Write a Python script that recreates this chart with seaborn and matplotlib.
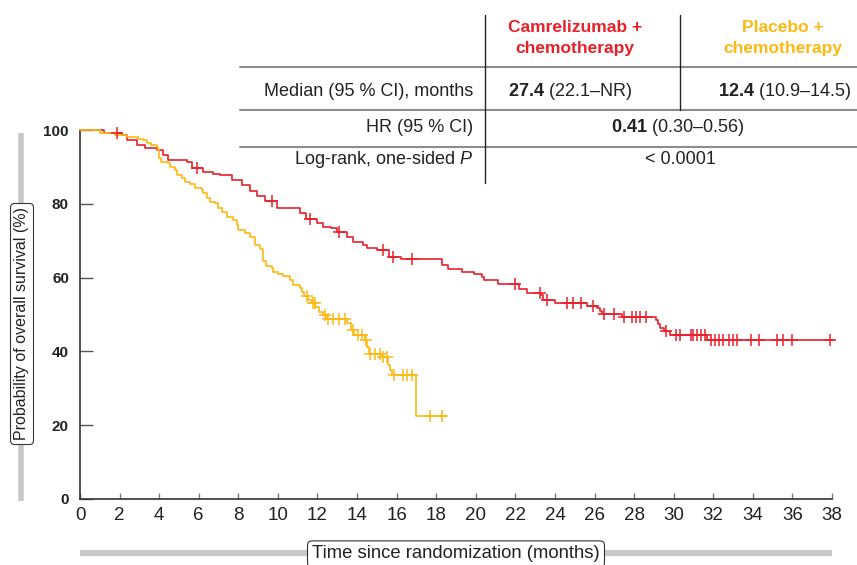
import numpy as np
import pandas as pd
import matplotlib
matplotlib.use('Agg')
import matplotlib.pyplot as plt
from matplotlib.lines import Line2D
import seaborn as sns

# ── Data ─────────────────────────────────────────────────────────────────────
# step times (months) and survival (%) after each drop
red_time = [0, 1.2, 2.1, 2.4, 2.9, 3.3, 3.9, 4.2, 4.45, 5.4, 5.66, 6.2, 6.7,
            7.07, 7.7, 8.2, 8.6, 8.94, 9.35, 9.95, 11.1, 11.4, 12.0, 12.3,
            12.7, 13.0, 13.5, 13.8, 14.3, 14.5, 15.0, 15.6, 16.2, 18.3, 18.6,
            19.3, 19.9, 20.3, 20.4, 21.1, 22.2, 22.6, 23.3, 23.4, 24.0, 25.6,
            26.1, 26.3, 26.4, 27.4, 29.1, 29.2, 29.3, 29.5, 29.8, 31.7]
red_surv = [100, 99.2, 98.6, 97.3, 96.0, 95.1, 94.6, 93.2, 91.9, 91.3, 89.6,
            88.6, 88.1, 87.8, 86.4, 85.1, 83.5, 82.0, 80.8, 78.9, 77.5, 75.9,
            74.8, 73.7, 73.4, 72.4, 71.0, 69.6, 68.8, 68.0, 67.5, 65.6, 65.0,
            63.4, 62.4, 61.5, 61.0, 60.2, 59.3, 58.3, 56.9, 55.8, 55.2, 53.9,
            53.1, 52.3, 51.8, 50.9, 50.2, 49.3, 48.5, 47.4, 46.3, 45.5, 44.4,
            43.0]
red_end = 38.05
red_cens = [1.85, 5.9, 9.7, 11.6, 13.1, 15.3, 15.8, 16.8, 22.0, 23.25, 23.6,
            24.6, 24.9, 25.3, 25.9, 26.5, 27.0, 27.5, 27.9, 28.1, 28.3, 28.6,
            29.6, 30.1, 30.3, 30.9, 31.0, 31.2, 31.4, 31.6, 31.9, 32.1, 32.3,
            32.5, 32.8, 33.0, 33.2, 33.9, 34.3, 35.2, 35.5, 36.0, 37.9]

yel_time = [0, 1.0, 1.77, 2.4, 2.93, 3.2, 3.4, 3.6, 3.9, 3.94, 4.0, 4.1, 4.45,
            4.55, 4.8, 4.9, 5.15, 5.3, 5.56, 5.8, 6.16, 6.2, 6.4, 6.57, 6.8,
            6.97, 7.17, 7.43, 7.73, 7.93, 7.98, 8.34, 8.59, 8.84, 9.1, 9.25,
            9.4, 9.7, 9.75, 10.0, 10.26, 10.6, 10.76, 11.1, 11.2, 11.3, 11.5,
            11.7, 11.9, 12.1, 12.3, 12.5, 13.5, 13.7, 13.85, 14.4, 14.5, 14.6,
            15.2, 15.56, 15.66, 15.77, 16.98]
yel_surv = [100, 99.2, 98.6, 98.1, 97.6, 97.3, 96.5, 95.9, 95.4, 94.6, 92.4,
            91.3, 91.0, 90.0, 89.2, 87.8, 87.0, 85.9, 85.4, 84.3, 83.7, 82.9,
            81.6, 80.5, 80.2, 78.9, 77.8, 76.4, 75.6, 74.3, 72.9, 72.1, 71.0,
            68.8, 67.8, 64.6, 63.2, 62.6, 61.5, 61.0, 60.4, 59.3, 58.0, 57.2,
            56.1, 55.0, 53.9, 53.1, 52.0, 50.7, 49.9, 48.8, 47.7, 45.8, 44.5,
            43.1, 41.2, 39.3, 38.5, 36.3, 35.0, 33.6, 22.5]
yel_end = 18.5
yel_cens = [11.47, 11.75, 11.85, 12.4, 12.55, 12.8, 13.1, 13.4, 13.8, 14.05,
            14.25, 14.45, 14.65, 14.9, 15.16, 15.3, 15.5, 15.87, 16.3, 16.5,
            16.8, 17.7, 18.3]

x_ticks = list(range(0, 39, 2))
y_ticks = [0, 20, 40, 60, 80, 100]

RED = '#E8202A'
GOLD = '#FDB913'
TXT = '#222222'

# ── Style ────────────────────────────────────────────────────────────────────
sns.set_theme(style='ticks')
plt.rcParams['font.family'] = ['Liberation Sans', 'DejaVu Sans']
plt.rcParams['mathtext.fontset'] = 'custom'
plt.rcParams['mathtext.rm'] = 'Liberation Sans'
plt.rcParams['mathtext.bf'] = 'Liberation Sans:bold'
plt.rcParams['mathtext.it'] = 'Liberation Sans:italic'

W, H = 857, 565
fig = plt.figure(figsize=(W / 100, H / 100), dpi=100)
fig.patch.set_facecolor('white')


def fx(px):
    return px / W


def fy(py):
    return 1 - py / H


ax = fig.add_axes([fx(80), fy(499), (832 - 80) / W, (499 - 130) / H])
ax.set_facecolor('white')

# ── Curves ───────────────────────────────────────────────────────────────────
for t, s, end, cens, col in [(red_time, red_surv, red_end, red_cens, RED),
                             (yel_time, yel_surv, yel_end, yel_cens, GOLD)]:
    df = pd.DataFrame({'t': t + [end], 's': s + [s[-1]]})
    sns.lineplot(data=df, x='t', y='s', drawstyle='steps-post', color=col,
                 lw=1.2, estimator=None, sort=False, ax=ax, clip_on=False,
                 zorder=3)
    idx = np.searchsorted(np.array(t), np.array(cens), side='right') - 1
    lvl = np.array(s)[idx]
    sns.scatterplot(x=cens, y=lvl, marker='+', s=70, color=col,
                    linewidth=1.1, ax=ax, clip_on=False, zorder=4)

ax.set_xlim(0, 38)
ax.set_ylim(0, 100)
ax.set_xticks(x_ticks)
ax.set_yticks(y_ticks)
ax.set_xlabel('')
ax.set_ylabel('')
sns.despine(ax=ax)
for sp in ['left', 'bottom']:
    ax.spines[sp].set_color('#333333')
    ax.spines[sp].set_linewidth(1.2)
ax.tick_params(axis='y', direction='in', length=9.5, width=1, color='#555555',
               pad=8, labelsize=11, labelcolor=TXT)
ax.tick_params(axis='x', direction='in', length=4.5, width=1, color='#777777',
               pad=6, labelsize=13.5, labelcolor=TXT)
for lab in ax.get_yticklabels():
    lab.set_fontweight('bold')
for lab in ax.get_xticklabels():
    lab.set_family(['Liberation Sans Narrow', 'Liberation Sans'])

# ── Axis-label bars and boxes ────────────────────────────────────────────────
fig.add_artist(Line2D([fx(80), fx(832)], [fy(553)] * 2, color='#c8c8c8',
                      lw=4.5, solid_capstyle='butt', zorder=1))
fig.text(fx(456), fy(554), 'Time since randomization (months)', ha='center',
         va='center', fontsize=13.3, color=TXT, zorder=5,
         bbox=dict(boxstyle='round,pad=0.25', fc='white', ec='#333333', lw=0.8))
fig.add_artist(Line2D([fx(21)] * 2, [fy(133), fy(501)], color='#c8c8c8',
                      lw=4, solid_capstyle='butt', zorder=1))
fig.text(fx(22), fy(324), 'Probability of overall survival (%)', rotation=90,
         ha='center', va='center', fontsize=11.5, color=TXT, zorder=5,
         bbox=dict(boxstyle='round,pad=0.25', fc='white', ec='#333333', lw=0.8))

# ── Summary table ────────────────────────────────────────────────────────────
for yy in [67, 110, 147]:
    fig.add_artist(Line2D([fx(240), 1.0], [fy(yy)] * 2, color='#8c8c8c',
                          lw=1.5, zorder=2))
fig.add_artist(Line2D([fx(485)] * 2, [fy(15), fy(183)], color='#222222',
                      lw=1, zorder=2))
fig.add_artist(Line2D([fx(680)] * 2, [fy(15), fy(110)], color='#222222',
                      lw=1, zorder=2))

fig.text(fx(575), fy(38), 'Camrelizumab +\nchemotherapy', ha='center',
         va='center', color=RED, fontsize=12.5, fontweight='bold',
         linespacing=1.45)
fig.text(fx(783), fy(38), 'Placebo +\nchemotherapy', ha='center',
         va='center', color=GOLD, fontsize=12.5, fontweight='bold',
         linespacing=1.45)

row_y = [91, 128, 160]
fig.text(fx(473), fy(row_y[0]), 'Median (95 % CI), months', ha='right',
         va='center', fontsize=13, color=TXT)
fig.text(fx(473), fy(row_y[1]), 'HR (95 % CI)', ha='right', va='center',
         fontsize=13, color=TXT)
fig.text(fx(473), fy(row_y[2]), 'Log-rank, one-sided $\\mathit{P}$',
         ha='right', va='center', fontsize=13, color=TXT)
fig.text(fx(570), fy(row_y[0]), '$\\mathbf{27.4}$ (22.1–NR)', ha='center',
         va='center', fontsize=13, color=TXT)
fig.text(fx(785), fy(row_y[0]), '$\\mathbf{12.4}$ (10.9–14.5)', ha='center',
         va='center', fontsize=13, color=TXT)
fig.text(fx(678), fy(row_y[1]), '$\\mathbf{0.41}$ (0.30–0.56)', ha='center',
         va='center', fontsize=13, color=TXT)
fig.text(fx(680), fy(row_y[2]), '< 0.0001', ha='center', va='center',
         fontsize=13, color=TXT)

plt.savefig('out.png', dpi=100, facecolor='white')
